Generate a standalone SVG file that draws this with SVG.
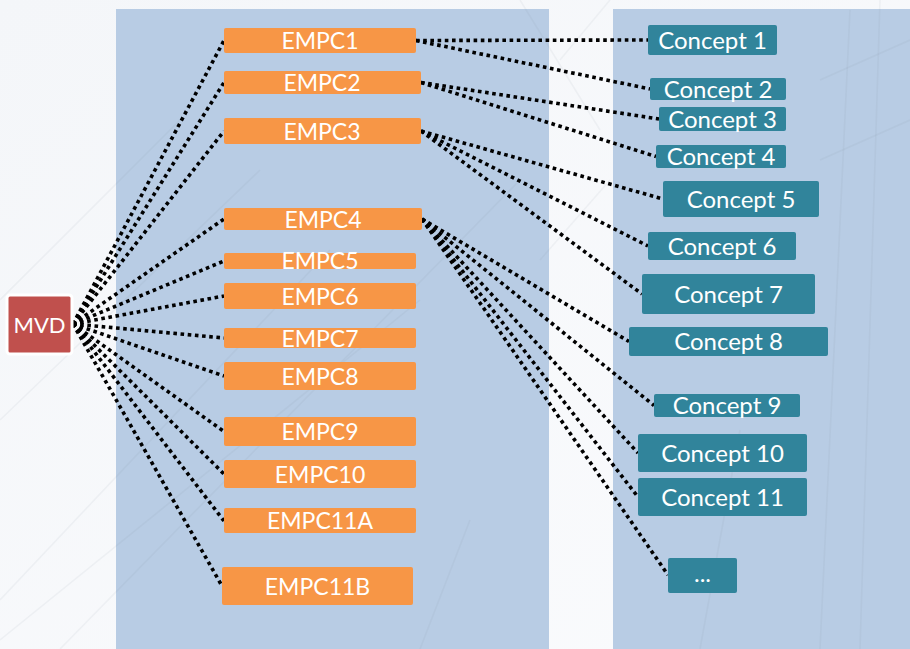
<svg xmlns="http://www.w3.org/2000/svg" width="910" height="649" viewBox="0 0 910 649">
  <defs>
    <linearGradient id="bg" x1="0" y1="0" x2="1" y2="1">
      <stop offset="0" stop-color="#F4F6F9"/>
      <stop offset="1" stop-color="#FAFBFD"/>
    </linearGradient>
  </defs>
  <style>
    .panel { fill: #B8CCE4; }
    .sketch { fill: none; stroke: #6F7F94; stroke-opacity: 0.07; stroke-width: 1.6; }
    .link { fill: none; stroke: #000; stroke-width: 3.6; stroke-dasharray: 3.6 3.6; }
    .empc rect { fill: #F79646; }
    .concept rect { fill: #31849B; }
    .mvd rect { fill: #C0504D; stroke: #FFFFFF; stroke-width: 3; }
    text { fill: #FFFFFF; font-family: Lato, "Open Sans", "Liberation Sans", sans-serif; font-size: 23px; text-anchor: middle; }
    .concept text { font-size: 24px; }
    .mvd text { font-size: 22px; }
  </style>

  <!-- backdrop -->
  <rect x="0" y="0" width="910" height="649" fill="url(#bg)"/>
  <rect class="panel" x="116" y="9" width="433" height="640"/>
  <rect class="panel" x="613" y="9" width="297" height="640"/>

  <!-- faint sketched structure lines -->
  <g class="sketch">
    <path d="M0 600 L330 250"/>
    <path d="M0 640 L420 300"/>
    <path d="M60 649 L520 180"/>
    <path d="M0 420 L260 170"/>
    <path d="M0 300 L180 120"/>
    <path d="M520 0 L600 130"/>
    <path d="M560 60 L610 0"/>
    <path d="M540 260 L610 180"/>
    <path d="M850 10 L820 649"/>
    <path d="M880 0 L860 649"/>
    <path d="M820 80 L910 40"/>
    <path d="M820 160 L910 120"/>
    <path d="M700 649 L740 430"/>
    <path d="M420 649 L470 520"/>
  </g>

  <!-- connectors -->
  <g id="connectors">
    <path class="link" d="M73 324 L224 40.5"/>
    <path class="link" d="M73 324 L224 82.5"/>
    <path class="link" d="M73 324 L224 131"/>
    <path class="link" d="M73 324 L224 219"/>
    <path class="link" d="M73 324 L224 261"/>
    <path class="link" d="M73 324 L224 296"/>
    <path class="link" d="M73 324 L224 338"/>
    <path class="link" d="M73 324 L224 376"/>
    <path class="link" d="M73 324 L224 431.5"/>
    <path class="link" d="M73 324 L224 474"/>
    <path class="link" d="M73 324 L224 521"/>
    <path class="link" d="M73 324 L222 586"/>

    <path class="link" d="M416 40.5 L648 40"/>
    <path class="link" d="M416 40.5 L650 89"/>
    <path class="link" d="M421 82.5 L659 119"/>
    <path class="link" d="M421 82.5 L656 156.5"/>
    <path class="link" d="M421 131 L663 199"/>
    <path class="link" d="M421 131 L648 246"/>
    <path class="link" d="M421 131 L642 294"/>
    <path class="link" d="M422 219 L629 341.5"/>
    <path class="link" d="M422 219 L654 405.5"/>
    <path class="link" d="M422 219 L638 453"/>
    <path class="link" d="M422 219 L638 497"/>
    <path class="link" d="M422 219 L668 575"/>
  </g>

  <!-- root -->
  <g id="mvd" class="mvd">
    <rect x="7" y="295" width="65" height="59" rx="3"/>
    <text x="39.5" y="332.5">MVD</text>
  </g>

  <!-- EMPC column -->
  <g id="empc1" class="empc"><rect x="224" y="28" width="192" height="25" rx="2"/><text x="320" y="49">EMPC1</text></g>
  <g id="empc2" class="empc"><rect x="224" y="71" width="197" height="23" rx="2"/><text x="322" y="91">EMPC2</text></g>
  <g id="empc3" class="empc"><rect x="224" y="118" width="197" height="26" rx="2"/><text x="322" y="139.5">EMPC3</text></g>
  <g id="empc4" class="empc"><rect x="224" y="208" width="198" height="22" rx="2"/><text x="323" y="227.5">EMPC4</text></g>
  <g id="empc5" class="empc"><rect x="224" y="253" width="192" height="16" rx="2"/><text x="320" y="269">EMPC5</text></g>
  <g id="empc6" class="empc"><rect x="224" y="283" width="192" height="26" rx="2"/><text x="320" y="304.5">EMPC6</text></g>
  <g id="empc7" class="empc"><rect x="224" y="328" width="192" height="20" rx="2"/><text x="320" y="346.5">EMPC7</text></g>
  <g id="empc8" class="empc"><rect x="224" y="362" width="192" height="28" rx="2"/><text x="320" y="384.5">EMPC8</text></g>
  <g id="empc9" class="empc"><rect x="224" y="417" width="192" height="29" rx="2"/><text x="320" y="440">EMPC9</text></g>
  <g id="empc10" class="empc"><rect x="224" y="460" width="192" height="28" rx="2"/><text x="320" y="482.5">EMPC10</text></g>
  <g id="empc11a" class="empc"><rect x="224" y="508" width="192" height="25" rx="2"/><text x="320" y="529">EMPC11A</text></g>
  <g id="empc11b" class="empc"><rect x="222" y="567" width="191" height="38" rx="2"/><text x="317.5" y="594.5">EMPC11B</text></g>

  <!-- concept column -->
  <g id="concept1" class="concept"><rect x="648" y="25" width="129" height="30" rx="2"/><text x="712.5" y="48.5">Concept 1</text></g>
  <g id="concept2" class="concept"><rect x="650" y="78" width="136" height="22" rx="2"/><text x="718" y="97.5">Concept 2</text></g>
  <g id="concept3" class="concept"><rect x="659" y="107" width="127" height="24" rx="2"/><text x="722.5" y="127.5">Concept 3</text></g>
  <g id="concept4" class="concept"><rect x="656" y="145" width="130" height="23" rx="2"/><text x="721" y="165">Concept 4</text></g>
  <g id="concept5" class="concept"><rect x="663" y="181" width="156" height="36" rx="2"/><text x="741" y="207.5">Concept 5</text></g>
  <g id="concept6" class="concept"><rect x="648" y="232" width="148" height="28" rx="2"/><text x="722" y="254.5">Concept 6</text></g>
  <g id="concept7" class="concept"><rect x="642" y="274" width="173" height="40" rx="2"/><text x="728.5" y="302.5">Concept 7</text></g>
  <g id="concept8" class="concept"><rect x="629" y="327" width="199" height="29" rx="2"/><text x="728.5" y="350">Concept 8</text></g>
  <g id="concept9" class="concept"><rect x="654" y="394" width="146" height="23" rx="2"/><text x="727" y="414">Concept 9</text></g>
  <g id="concept10" class="concept"><rect x="638" y="434" width="169" height="38" rx="2"/><text x="722.5" y="461.5">Concept 10</text></g>
  <g id="concept11" class="concept"><rect x="638" y="478" width="169" height="38" rx="2"/><text x="722.5" y="505.5">Concept 11</text></g>
  <g id="concept-more" class="concept"><rect x="668" y="558" width="69" height="35" rx="2"/><text x="702.5" y="582">...</text></g>
</svg>
